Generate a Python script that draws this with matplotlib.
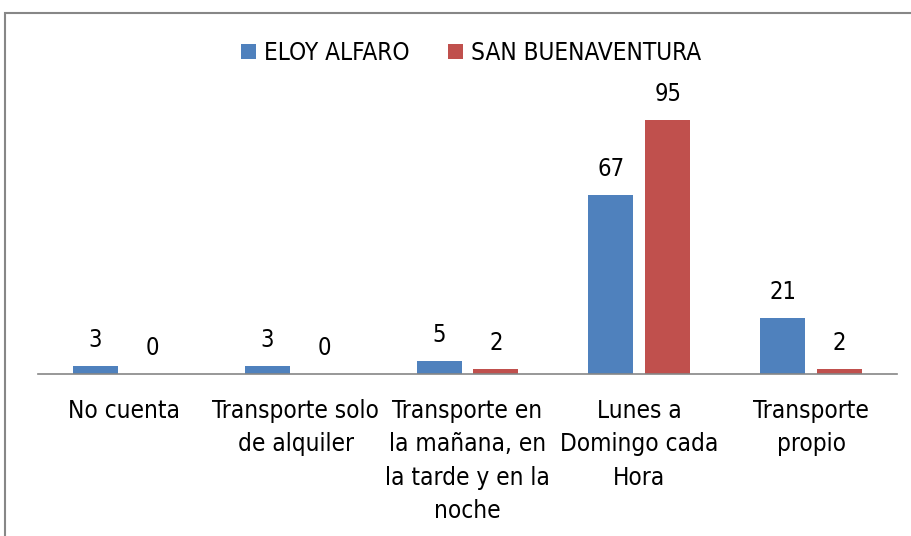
import matplotlib
matplotlib.use("Agg")
import matplotlib.pyplot as plt
from matplotlib.patches import Rectangle
import numpy as np

categories = ["No cuenta", "Transporte solo\nde alquiler", "Transporte en\nla mañana, en\nla tarde y en la\nnoche",
              "Lunes a\nDomingo cada\nHora", "Transporte\npropio"]
eloy = [3, 3, 5, 67, 21]
san = [0, 0, 2, 95, 2]
series_names = ["ELOY ALFARO", "SAN BUENAVENTURA"]
colors = ["#4F81BD", "#C0504D"]

plt.rcParams['font.family'] = ['DejaVu Sans']
plt.rcParams['font.stretch'] = 'condensed'

W, H = 912, 536
fig = plt.figure(figsize=(W / 100, H / 100), dpi=100)
ax = fig.add_axes([38 / W, (H - 374) / H, (897 - 38) / W, 267 / H])

x = np.arange(len(categories))
bw = 45 / 172
gap = 12 / 172
off = (bw + gap) / 2
b1 = ax.bar(x - off, eloy, bw, color=colors[0], label=series_names[0])
b2 = ax.bar(x + off, san, bw, color=colors[1], label=series_names[1])

for bars, vals in ((b1, eloy), (b2, san)):
    for rect, v in zip(bars, vals):
        ax.annotate(str(v), (rect.get_x() + rect.get_width() / 2, v),
                    xytext=(0, 10), textcoords="offset points",
                    ha="center", va="bottom", fontsize=17, color="#000000")

ax.set_xlim(-0.5, len(categories) - 0.5)
ax.set_ylim(0, 100)
ax.set_yticks([])
ax.set_xticks(x)
ax.set_xticklabels(categories, fontsize=17.5, linespacing=1.5, ha="center")
ax.tick_params(axis="x", length=0, pad=18)
for s in ("top", "left", "right"):
    ax.spines[s].set_visible(False)
ax.spines["bottom"].set_color("#868686")
ax.spines["bottom"].set_linewidth(1.2)

leg = fig.legend(handles=[b1, b2], loc="center", bbox_to_anchor=(471 / W, 1 - 53 / H),
                 ncol=2, frameon=False, fontsize=17.5, handlelength=0.62, handleheight=0.62,
                 handletextpad=0.3, columnspacing=1.6)

fig.patches.append(Rectangle((5 / W, -0.1), 1.2, 1 - 13 / H + 0.1, transform=fig.transFigure,
                             fill=False, edgecolor="#878787", linewidth=1.5))

fig.savefig("out.png", dpi=100)
